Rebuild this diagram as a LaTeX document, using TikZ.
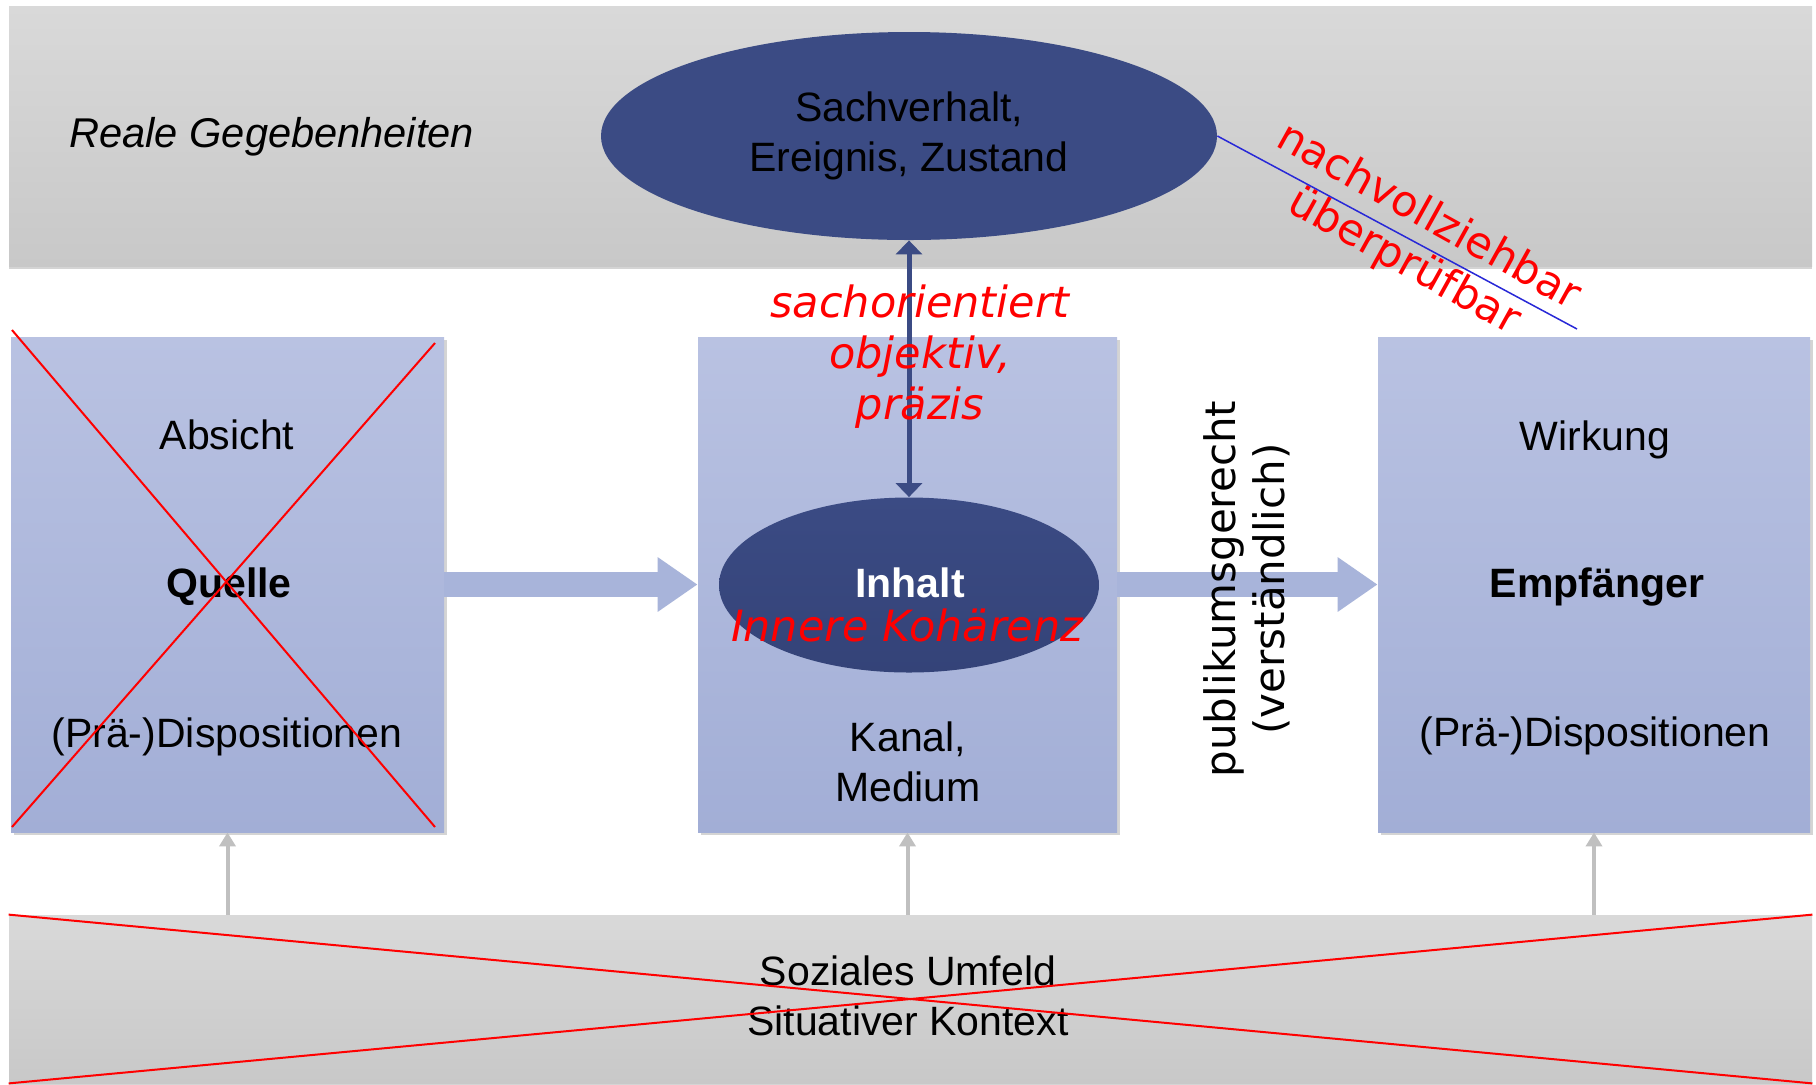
\documentclass[tikz,border=0pt]{standalone}
\usepackage{fontspec}
\setmainfont{Liberation Sans}
\newfontfamily\dvfont{DejaVu Sans}
\usetikzlibrary{shapes.geometric,arrows.meta,shadows}
\definecolor{bandtop}{RGB}{217,217,217}
\definecolor{bandbot}{RGB}{200,200,200}
\definecolor{boxtop}{RGB}{185,194,226}
\definecolor{boxbot}{RGB}{162,174,214}
\definecolor{darkblue}{RGB}{59,75,132}
\definecolor{darkblueb}{RGB}{52,67,120}
\definecolor{fatcol}{RGB}{168,180,218}
\definecolor{grayarr}{RGB}{192,192,192}
\definecolor{bluelinecol}{RGB}{40,40,215}
\definecolor{shadowcol}{RGB}{212,212,212}
\newcommand{\arialsz}{\fontsize{20.5pt}{25pt}\selectfont}
\newcommand{\redsz}{\dvfont\fontsize{21.5pt}{25.5pt}\selectfont}
\begin{document}
\begin{tikzpicture}[x=0.5pt,y=-0.5pt,
  bandnode/.style={rectangle, inner sep=0pt, top color=bandtop, bottom color=bandbot,
    drop shadow={shadow xshift=0pt, shadow yshift=-1.5pt, fill=shadowcol, opacity=1}},
  boxnode/.style={rectangle, inner sep=0pt, minimum height=247.5pt, top color=boxtop, bottom color=boxbot,
    drop shadow={shadow xshift=1.5pt, shadow yshift=-1.5pt, fill=shadowcol, opacity=1}},
  darkell/.style={ellipse, inner sep=0pt},
  lbl/.style={inner sep=0pt, font=\arialsz, text=black},
  boldlbl/.style={lbl, font=\arialsz\bfseries},
  redlbl/.style={inner sep=0pt, text=red, font=\redsz\itshape, align=center},
  fatarrow/.style={draw=fatcol, line width=12.5pt, -{Triangle[width=26pt,length=20pt]}},
  dblarrow/.style={draw=darkblue, line width=2.5pt, {Triangle[width=13pt,length=7pt]}-{Triangle[width=13pt,length=7pt]}},
  grayarrow/.style={draw=grayarr, line width=2pt, -{Triangle[width=8pt,length=7pt]}},
  redx/.style={draw=red, line width=1pt},
]
\useasboundingbox (0,0) rectangle (1816,1084);
\fill[white] (0,0) rectangle (1816,1084);

% bands
\node[bandnode, minimum width=901.5pt, minimum height=130pt] (real) at (910.5,136) {};
\node[bandnode, minimum width=901.5pt, minimum height=84pt] (umfeld) at (910.5,999) {};

% boxes
\node[boxnode, minimum width=216.5pt] (quelle) at (227.5,584.5) {};
\node[boxnode, minimum width=209.5pt] (kanal) at (907.5,584.5) {};
\node[boxnode, minimum width=216pt] (empf) at (1594,584.5) {};

% fat arrows
\draw[fatarrow] (quelle.east) -- (kanal.west);
\draw[fatarrow] (kanal.east) -- (empf.west);

% gray arrows
\draw[grayarrow] (umfeld.north -| quelle.south) -- (quelle.south);
\draw[grayarrow] (umfeld.north -| kanal.south) -- (kanal.south);
\draw[grayarrow] (umfeld.north -| empf.south) -- (empf.south);

% ellipses
\node[darkell, fill=darkblue, minimum width=308pt, minimum height=104pt,
      align=center, font=\arialsz, text=black] (sach) at (909,136) {Sachverhalt,\\Ereignis, Zustand};
\node[darkell, top color=darkblue, bottom color=darkblueb, minimum width=190pt, minimum height=87.5pt] (inhalt) at (909,585) {};

% double arrow
\draw[dblarrow] (sach.south) -- (inhalt.north);

% labels
\node[lbl, anchor=base west, font=\fontsize{20.8pt}{25pt}\selectfont\itshape] (realtxt) at (69,147) {Reale Gegebenheiten};

\node[lbl, anchor=base] (absicht) at (227,449) {Absicht};
\node[boldlbl, anchor=base] (quelletxt) at (229,597) {Quelle};
\node[lbl, anchor=base] (dispoa) at (227,747) {(Prä-)Dispositionen};

\node[lbl, anchor=base] (wirkung) at (1595,450) {Wirkung};
\node[boldlbl, anchor=base] (empftxt) at (1597,597) {Empfänger};
\node[lbl, anchor=base] (dispob) at (1595,746) {(Prä-)Dispositionen};

\node[lbl, align=center] (kanaltxt) at (908,762) {Kanal,\\Medium};
\node[boldlbl, anchor=base, text=white] (inhalttxt) at (910,597) {Inhalt};
\node[redlbl, anchor=base] (kohaerenz) at (907,641) {Innere Kohärenz};
\node[redlbl] (sachor) at (920,357) {sachorientiert\\objektiv,\\präzis};

\node[inner sep=0pt, text=red, font=\redsz, align=center, rotate=-29] (nachv) at (1416,240) {nachvollziehbar\\überprüfbar};
\node[inner sep=0pt, text=black, font=\dvfont\fontsize{21pt}{24.5pt}\selectfont, align=center, rotate=90] (publ) at (1247,589) {publikumsgerecht\\(verständlich)};

\node[lbl, align=center] (umfeldtxt) at (908,996) {Soziales Umfeld\\Situativer Kontext};

% red crosses
\draw[redx] (12,330) -- (435,827);
\draw[redx] (435,343) -- (12,827);
\draw[redx] (umfeld.north west) -- (umfeld.south east);
\draw[redx] (umfeld.north east) -- (umfeld.south west);

% blue line
\coordinate (blueend) at (1577,329);
\draw[draw=bluelinecol, line width=0.75pt] (sach.east) -- (blueend);
\end{tikzpicture}
\end{document}
